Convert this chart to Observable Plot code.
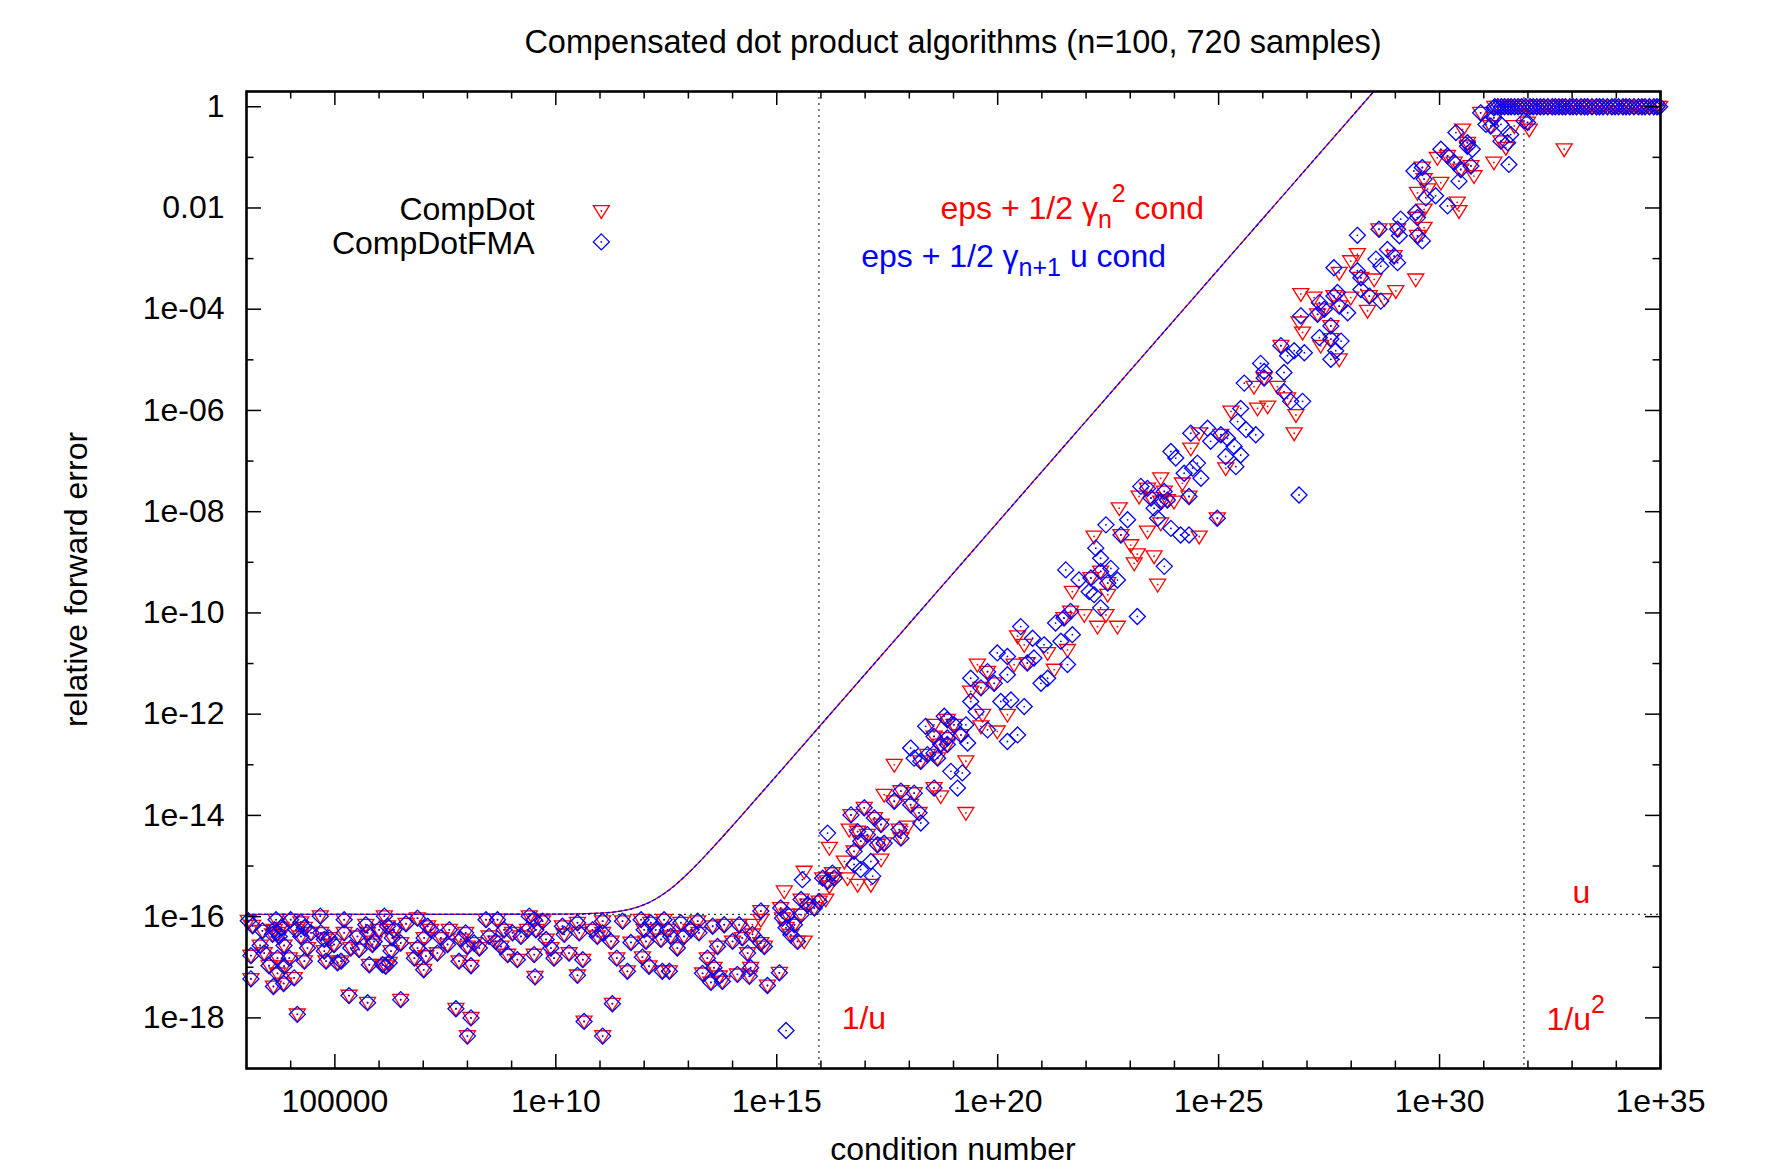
<!DOCTYPE html>
<html>
<head>
<meta charset="utf-8">
<script src="https://cdn.jsdelivr.net/npm/d3@7"></script>
<script src="https://cdn.jsdelivr.net/npm/@observablehq/plot@0.6"></script>
<style>
  body { margin: 0; background: #fff; }
  svg text { font-family: 'Liberation Sans', Arial, Helvetica, sans-serif; }
</style>
</head>
<body>
<div id="chart"></div>
<script>
// ---------- axis ticks ----------
const xTickValues = [1e5, 1e10, 1e15, 1e20, 1e25, 1e30, 1e35];
const xTickLabels = ["100000", "1e+10", "1e+15", "1e+20", "1e+25", "1e+30", "1e+35"];
const xMinorTicks = [1e4,1e6,1e7,1e8,1e9,1e11,1e12,1e13,1e14,1e16,1e17,1e18,1e19,1e21,1e22,1e23,1e24,1e26,1e27,1e28,1e29,1e31,1e32,1e33,1e34];
const yTickValues = [1, 1e-2, 1e-4, 1e-6, 1e-8, 1e-10, 1e-12, 1e-14, 1e-16, 1e-18];
const yTickLabels = ["1", "0.01", "1e-04", "1e-06", "1e-08", "1e-10", "1e-12", "1e-14", "1e-16", "1e-18"];
const yMinorTicks = [1e-1, 1e-3, 1e-5, 1e-7, 1e-9, 1e-11, 1e-13, 1e-15, 1e-17];

// ---------- reference lines: 1/u, 1/u^2 and u ----------
const refCond = [9.007e15, 8.113e31];
const refErr = [1.11e-16];

// ---------- samples: [log10(condition number), log10(relative forward error)] ----------
// samples where CompDot and CompDotFMA give (visually) the same error
const bothPts = [
[3.04,-16.08],[3.14,-16.18],[3.10,-16.77],[3.10,-17.23],[3.36,-16.28],[3.31,-16.57],[3.40,-16.72],[3.51,-16.97],[3.61,-17.38],[3.67,-16.06],
[3.70,-16.32],[3.63,-16.26],[3.78,-16.22],[3.59,-16.35],[3.74,-16.39],[3.85,-16.57],[3.70,-16.82],[3.85,-16.98],[3.70,-17.12],[3.84,-17.32],
[3.97,-16.82],[4.00,-16.06],[4.12,-16.26],[4.08,-17.21],[4.15,-17.93],[4.23,-16.11],[4.23,-16.39],[4.31,-16.22],[4.38,-16.62],[4.31,-16.88],
[4.46,-16.32],[4.67,-15.99],[4.68,-16.32],[4.76,-16.45],[4.87,-16.42],[4.80,-16.88],[4.76,-16.68],[4.98,-16.55],[5.06,-16.91],[5.14,-16.88],
[5.21,-16.06],[5.21,-16.32],[5.32,-17.56],[5.36,-16.62],[5.55,-16.65],[5.51,-16.39],[5.70,-16.16],[5.74,-16.32],[5.78,-16.95],[5.74,-17.70],
[5.85,-16.55],[5.89,-16.49],[6.00,-16.26],[6.08,-16.95],[6.15,-16.98],[6.23,-16.91],[6.12,-15.99],[6.19,-16.19],[6.30,-16.42],[6.34,-16.26],
[6.27,-16.68],[6.49,-16.52],[6.49,-17.64],[6.61,-16.14],[6.87,-16.62],[6.87,-16.03],[6.80,-16.82],[7.01,-17.05],[7.06,-16.78],[7.02,-16.42],
[7.10,-16.19],[7.17,-16.26],[7.32,-16.72],[7.40,-16.42],[7.59,-16.26],[7.55,-16.55],[7.74,-17.82],[7.81,-16.88],[7.85,-16.45],[7.96,-16.32],
[8.00,-16.59],[8.08,-16.97],[8.08,-18.00],[8.00,-18.36],[8.15,-16.52],[8.27,-16.62],[8.42,-16.06],[8.49,-16.39],[8.68,-16.06],[8.64,-16.49],
[8.76,-16.59],[8.83,-16.26],[8.91,-16.75],[9.02,-16.32],[9.13,-16.85],[9.21,-16.39],[9.36,-16.26],[9.40,-15.99],
[9.51,-16.06],[9.55,-16.26],[9.51,-16.75],[9.53,-17.19],[9.70,-16.09],[9.78,-16.45],[9.89,-16.62],[9.96,-16.82],[10.15,-16.19],[10.19,-16.35],
[10.30,-16.72],[10.49,-16.12],[10.53,-16.32],[10.49,-17.16],[10.61,-16.85],[10.64,-18.07],[10.83,-16.26],[10.94,-16.39],[11.06,-16.09],[11.06,-18.36],
[11.06,-16.32],[11.25,-16.49],[11.28,-17.72],[11.38,-16.82],[11.51,-16.09],[11.62,-17.08],[11.70,-16.51],[11.93,-16.06],[11.96,-16.80],[12.00,-16.26],
[12.04,-16.49],[12.11,-16.98],[12.15,-16.12],[12.26,-16.26],[12.38,-16.45],[12.41,-17.08],[12.45,-16.06],[12.53,-16.26],[12.57,-17.08],[12.60,-16.39],
[12.75,-16.62],[12.83,-16.12],[12.90,-16.39],[13.06,-16.26],[13.21,-16.09],[13.24,-16.32],[13.32,-17.12],[13.43,-16.82],[13.51,-17.30],[13.55,-16.19],
[13.58,-17.01],[13.66,-16.59],[13.70,-17.18],[13.77,-17.28],[13.81,-16.16],[14.00,-16.49],[14.11,-17.14],[14.15,-16.16],[14.22,-16.42],[14.34,-16.72],
[14.38,-17.18],[14.41,-17.01],[14.45,-16.35],[14.64,-15.89],[14.64,-16.52],[14.72,-16.59],[14.79,-17.36],
[15.06,-17.11],[15.09,-15.83],[15.13,-16.03],[15.24,-15.96],[15.21,-16.22],[15.32,-16.36],[15.47,-16.49],[15.40,-16.16],[15.55,-15.96],[15.55,-15.66],
[15.70,-15.76],[15.85,-15.83],[15.96,-15.70],[16.04,-15.24],[16.15,-15.30],[16.26,-15.14],[16.30,-15.24],
[16.68,-13.99],[16.98,-13.85],[17.21,-14.05],[17.36,-14.18],[16.83,-14.32],[17.05,-14.38],[16.90,-14.51],[16.75,-14.71],[17.28,-14.58],[17.43,-14.55],
[17.77,-14.28],[17.81,-14.45],[17.66,-13.72],[17.81,-13.52],[18.11,-13.56],[18.03,-13.79],[18.22,-13.95],[18.56,-13.46],
[18.26,-12.93],[18.41,-12.80],[18.64,-12.87],[18.71,-12.60],[18.86,-12.60],[18.86,-12.11],[19.01,-12.21],[18.56,-12.44],[18.86,-12.47],[19.17,-12.41],
[19.77,-11.16],[19.62,-11.48],[19.92,-11.39],[20.67,-10.99],[21.50,-10.10],[21.65,-9.97],
[22.11,-9.31],[22.33,-9.18],[22.49,-9.41],[22.79,-8.46],[23.39,-7.54],[23.47,-7.73],[23.69,-7.80],[23.84,-7.77],[23.77,-7.60],[24.33,-7.70],
[24.97,-8.13],[25.05,-6.48],[26.03,-5.36],
[26.41,-4.72],[27.24,-4.10],[27.39,-4.00],[27.61,-3.74],[27.73,-3.94],[28.41,-3.74],[27.54,-4.59],[27.54,-4.33],[28.22,-3.38],[28.97,-2.95],
[28.63,-2.42],[29.05,-2.42],[29.50,-2.19],[29.50,-2.55],[29.61,-1.20],[29.65,-1.43],[30.18,-0.97],[30.33,-1.10],[30.48,-1.24],[30.63,-0.78],
[30.63,-0.71],[30.71,-1.17],[30.93,-0.12],[31.16,-0.38],[31.23,-0.22],[31.39,-0.68],[31.99,-0.31]
];
// samples where only the CompDot marker is distinguishable
const compDotPts = [
[14.45,-16.16],[14.64,-16.06],
[15.62,-16.49],[15.17,-15.50],[16.11,-15.66],[15.62,-15.11],[16.19,-15.40],[16.19,-14.64],[16.53,-14.91],[16.60,-15.24],[16.83,-15.37],[17.13,-15.37],
[16.64,-14.28],[17.36,-14.87],[17.96,-14.22],[17.43,-13.59],[18.71,-13.62],[19.28,-13.95],
[17.66,-13.00],[18.56,-12.21],[19.28,-12.93],[19.62,-12.24],[19.99,-12.34],[19.66,-12.01],[19.39,-11.55],[19.54,-11.02],[20.22,-12.01],[20.45,-10.46],
[20.60,-10.63],[21.28,-11.12],[21.58,-10.73],[21.13,-10.79],[20.37,-11.02],[21.96,-10.04],[22.26,-10.27],[22.71,-10.27],[22.45,-10.04],
[21.69,-9.58],[22.49,-9.64],[22.18,-8.49],[23.01,-8.66],[23.09,-9.02],[23.16,-8.84],[23.54,-8.88],[23.62,-9.44],[22.75,-7.93],[23.20,-7.70],
[23.99,-7.80],[23.69,-7.34],[24.56,-8.49],[23.39,-8.39],[23.69,-8.23],[24.37,-6.75],[24.18,-7.44],[24.56,-6.45],[25.16,-7.14],[25.28,-6.02],
[25.88,-5.96],[26.11,-5.92],[25.80,-5.53],[26.33,-5.53],[26.56,-5.76],[26.75,-6.09],[26.71,-6.45],
[26.86,-3.70],[26.90,-4.46],[26.82,-4.26],[27.16,-3.77],[27.99,-3.77],[28.37,-4.03],[28.75,-3.80],[27.31,-4.72],[27.73,-4.99],[27.73,-3.28],
[28.14,-2.91],[27.99,-3.05],[28.52,-3.41],[29.01,-3.64],[29.46,-3.41],[29.65,-2.39],[29.73,-1.63],[30.03,-1.50],[29.50,-1.70],[30.40,-1.89],
[30.44,-2.06],[29.65,-2.03],[29.95,-1.01],[30.52,-0.45],[30.78,-1.37],[31.50,-0.81],[31.23,-1.10],[31.69,-0.38],[32.03,-0.45],[32.82,-0.84]
];
// samples where only the CompDotFMA marker is distinguishable
const compDotFMAPts = [
[15.21,-18.25],[15.58,-15.27],[16.15,-14.35],[17.17,-15.20],[16.90,-15.07],[16.75,-14.97],[17.13,-14.91],[18.26,-14.15],[19.09,-13.46],
[18.03,-12.67],[18.11,-12.87],[18.56,-12.77],[18.94,-13.13],[19.20,-13.16],[18.37,-12.24],[18.79,-12.04],[19.28,-12.21],[19.32,-12.57],[19.39,-11.75],
[19.51,-11.95],[19.77,-12.31],[19.39,-11.29],[20.22,-11.22],[20.22,-12.54],[20.45,-12.41],[20.60,-11.85],[20.07,-11.75],[20.30,-11.72],[19.99,-10.79],
[20.22,-10.86],[20.52,-10.27],[20.79,-10.50],[20.82,-10.89],[21.05,-10.63],[20.98,-11.39],[21.13,-11.29],[21.58,-11.02],[21.43,-10.56],[21.69,-10.43],
[21.31,-10.20],[22.33,-9.90],[23.16,-10.07],
[21.54,-9.15],[21.84,-9.35],[22.07,-9.58],[22.18,-9.64],[22.45,-8.26],[22.22,-8.72],[22.33,-8.92],[22.56,-9.12],[22.71,-9.35],[23.77,-9.08],
[22.94,-8.16],[23.24,-7.50],[23.54,-7.93],[23.62,-8.13],[23.92,-8.33],[24.14,-8.46],[24.33,-8.46],[23.92,-6.81],[24.03,-6.94],[24.41,-7.14],
[24.52,-7.04],[24.60,-7.34],[24.22,-7.24],[24.37,-6.45],[24.75,-6.35],[24.82,-6.61],[25.20,-6.55],[25.35,-6.71],[25.16,-6.91],[25.39,-7.11],
[25.50,-6.88],[25.50,-5.96],[25.43,-6.22],[25.62,-6.38],[25.84,-6.48],[25.58,-5.46],[26.03,-5.23],[26.48,-5.63],[26.63,-5.82],[26.90,-5.82],
[26.82,-7.67],[25.95,-5.07],
[26.48,-5.25],[26.56,-4.92],[26.71,-4.82],[26.94,-4.86],[26.86,-4.13],[27.28,-3.87],[27.69,-3.67],[27.92,-4.07],[28.22,-3.61],[28.67,-3.84],
[27.28,-4.56],[27.77,-4.63],[27.65,-4.82],[27.54,-4.99],[27.61,-3.18],[28.14,-3.24],[28.56,-3.01],[28.67,-3.15],[28.82,-2.82],[29.05,-3.08],
[28.14,-2.54],[29.09,-2.55],[29.12,-2.22],[29.61,-2.65],[29.42,-1.27],[29.69,-1.80],[29.91,-1.76],[30.18,-1.96],[29.46,-2.09],[30.03,-0.84],
[30.74,-0.84],[30.37,-0.51],[30.44,-1.47],[31.05,-0.35],[31.39,-0.35],[31.23,-0.02],[31.61,-0.55],[31.54,-0.71],[31.57,-1.14],[31.91,-0.28]
];
// log10(condition number) of samples whose error saturates at 1 (both algorithms)
const saturatedCond = [31.25,31.32,31.40,31.47,31.55,31.62,31.70,31.78,31.86,31.95,32.05,32.12,32.20,32.28,32.36,32.45,32.55,32.62,32.70,32.78,
32.85,32.95,33.02,33.10,33.20,33.28,33.35,33.45,33.55,33.62,33.70,33.80,33.90,33.97,34.05,34.15,34.22,34.30,34.40,34.50,34.58,34.65,34.75,34.85,34.92,34.98];

// bound curves (both drawn on the same path): [log10(cond), log10(error)]
const boundCurve = [[3,-15.955],[10,-15.952],[11,-15.931],[11.5,-15.884],[11.75,-15.837],[12,-15.763],[12.25,-15.657],[12.5,-15.515],
[12.75,-15.34],[13,-15.138],[13.25,-14.918],[13.5,-14.686],[13.75,-14.447],[14,-14.203],[14.5,-13.708],[15,-13.21],[16,-12.21],[28.51,0.30]];

// legend
const legendLabels = ["CompDot", "CompDotFMA"];
const seriesColors = ["#ff0000", "#0000ff"];

// ---------- build data ----------
const toRow = ([c, e]) => ({cond: 10 ** c, err: 10 ** e});
const satRows = saturatedCond.map(c => ({cond: 10 ** c, err: 1}));
const dotData = bothPts.map(toRow).concat(compDotPts.map(toRow), satRows);
const fmaData = bothPts.map(toRow).concat(compDotFMAPts.map(toRow), satRows);
const curveData = boundCurve.map(toRow);

const RED = seriesColors[0], BLUE = seriesColors[1];
const triDown = {draw(ctx, size) { const s = Math.sqrt(size / Math.PI);
  ctx.moveTo(-s, -0.67 * s); ctx.lineTo(s, -0.67 * s); ctx.lineTo(0, 0.93 * s); ctx.closePath(); }};
const diamond = {draw(ctx, size) { const s = Math.sqrt(size / Math.PI);
  ctx.moveTo(0, -s); ctx.lineTo(s, 0); ctx.lineTo(0, s); ctx.lineTo(-s, 0); ctx.closePath(); }};

const W = 1791, H = 1169, ML = 246, MR = 131, MT = 91, MB = 101;
const FH = H - MT - MB;
const FONT = "'Liberation Sans', Arial, Helvetica, sans-serif";
const MR_SIZE = 8, MSW = 1.3;

// legend positions in data space
const legendTextCond = 10 ** 9.52, legendSymCond = 10 ** 11.03;
const legendTextY = [10 ** -2.23, 10 ** -2.91];
const legendSymY = [10 ** -2.06, 10 ** -2.67];

const plot = Plot.plot({
  width: W, height: H,
  marginLeft: ML, marginRight: MR, marginTop: MT, marginBottom: MB,
  style: {fontFamily: FONT, fontSize: "32px", background: "#fff", color: "#000", overflow: "visible"},
  x: {type: "log", domain: [1e3, 1e35], axis: null},
  y: {type: "log", domain: [1e-19, 2], axis: null},
  marks: [
    Plot.ruleX(refCond, {x: d => d, stroke: "#333", strokeWidth: 1.2, strokeDasharray: "2,4"}),
    Plot.ruleY(refErr, {y: d => d, stroke: "#333", strokeWidth: 1.2, strokeDasharray: "2,4"}),
    Plot.dot(dotData, {x: "cond", y: "err", symbol: triDown, r: MR_SIZE, stroke: RED, strokeWidth: MSW, fill: "none"}),
    Plot.dot(dotData, {x: "cond", y: "err", r: 0.9, fill: RED, stroke: "none"}),
    Plot.dot(fmaData, {x: "cond", y: "err", symbol: diamond, r: MR_SIZE, stroke: BLUE, strokeWidth: MSW, fill: "none"}),
    Plot.dot(fmaData, {x: "cond", y: "err", r: 0.9, fill: BLUE, stroke: "none"}),
    Plot.line(curveData, {x: "cond", y: "err", stroke: RED, strokeWidth: 1.3, curve: "monotone-x"}),
    Plot.line(curveData, {x: "cond", y: "err", stroke: BLUE, strokeWidth: 1.3, strokeDasharray: "3,3", curve: "monotone-x"}),
    // ticks, inward on all four sides
    Plot.tickX(xTickValues, {x: d => d, insetTop: FH - 14, stroke: "#000", strokeWidth: 1.5}),
    Plot.tickX(xTickValues, {x: d => d, insetBottom: FH - 14, stroke: "#000", strokeWidth: 1.5}),
    Plot.tickX(xMinorTicks, {x: d => d, insetTop: FH - 7.5, stroke: "#000", strokeWidth: 1.5}),
    Plot.tickX(xMinorTicks, {x: d => d, insetBottom: FH - 7.5, stroke: "#000", strokeWidth: 1.5}),
    Plot.tickY(yTickValues, {y: d => d, insetRight: (W - ML - MR) - 15, stroke: "#000", strokeWidth: 1.5}),
    Plot.tickY(yTickValues, {y: d => d, insetLeft: (W - ML - MR) - 15, stroke: "#000", strokeWidth: 1.5}),
    Plot.tickY(yMinorTicks, {y: d => d, insetRight: (W - ML - MR) - 7.5, stroke: "#000", strokeWidth: 1.5}),
    Plot.tickY(yMinorTicks, {y: d => d, insetLeft: (W - ML - MR) - 7.5, stroke: "#000", strokeWidth: 1.5}),
    Plot.axisX(xTickValues, {anchor: "bottom", tickSize: 0, tickPadding: 21, fontSize: 32,
      tickFormat: d => xTickLabels[xTickValues.indexOf(d)], label: null}),
    Plot.axisY(yTickValues, {anchor: "left", tickSize: 0, tickPadding: 22, fontSize: 32,
      tickFormat: d => yTickLabels[yTickValues.indexOf(d)], label: null}),
    Plot.frame({stroke: "#000", strokeWidth: 2.6}),
    // legend
    Plot.text(legendLabels, {x: () => legendTextCond, y: (d, i) => legendTextY[i], text: d => d,
      textAnchor: "end", lineAnchor: "bottom", fontSize: 32, fill: "#000"}),
    Plot.dot([0], {x: () => legendSymCond, y: () => legendSymY[0], symbol: triDown, r: MR_SIZE, stroke: RED, strokeWidth: MSW}),
    Plot.dot([0], {x: () => legendSymCond, y: () => legendSymY[0], r: 0.9, fill: RED}),
    Plot.dot([0], {x: () => legendSymCond, y: () => legendSymY[1], symbol: diamond, r: MR_SIZE, stroke: BLUE, strokeWidth: MSW}),
    Plot.dot([0], {x: () => legendSymCond, y: () => legendSymY[1], r: 0.9, fill: BLUE})
  ]
});

document.getElementById("chart").appendChild(plot);

// ---------- rich-text labels placed through the plot's scales ----------
const sx = plot.scale("x"), sy = plot.scale("y");
const svg = d3.select(plot);

function rich(cond, err, anchor, color, parts) {
  const t = svg.append("text")
    .attr("x", sx.apply(cond)).attr("y", sy.apply(err))
    .attr("text-anchor", anchor).attr("fill", color)
    .attr("font-family", FONT).attr("font-size", 32);
  let shift = 0;
  for (const p of parts) {
    const target = p.sub ? 9 : p.sup ? -17 : 0;
    t.append("tspan").attr("dy", target - shift)
      .attr("font-size", p.sub || p.sup ? 25 : 32).text(p.t);
    shift = target;
  }
  return t;
}

// labels: [log10 cond, log10 err]
const labelRedPos = [24.68, -2.23], labelBluePos = [23.82, -3.17];
const labelInvU = [16.48, -18.22], labelInvU2 = [32.43, -18.25], labelU = [33.22, -15.75];

rich(10 ** labelRedPos[0], 10 ** labelRedPos[1], "end", RED,
  [{t: "eps + 1/2 γ"}, {t: "n", sub: true}, {t: "2", sup: true}, {t: " cond"}]);
rich(10 ** labelBluePos[0], 10 ** labelBluePos[1], "end", BLUE,
  [{t: "eps + 1/2 γ"}, {t: "n+1", sub: true}, {t: " u cond"}]);
rich(10 ** labelInvU[0], 10 ** labelInvU[1], "start", RED, [{t: "1/u"}]);
rich(10 ** labelInvU2[0], 10 ** labelInvU2[1], "start", RED, [{t: "1/u"}, {t: "2", sup: true}]);
rich(10 ** labelU[0], 10 ** labelU[1], "middle", RED, [{t: "u"}]);

// title and axis labels
const cx = (ML + (W - MR)) / 2;
svg.append("text").attr("x", cx).attr("y", 53).attr("text-anchor", "middle")
  .attr("font-family", FONT).attr("font-size", 32.5).attr("fill", "#000")
  .text("Compensated dot product algorithms (n=100, 720 samples)");
svg.append("text").attr("x", cx).attr("y", 1160).attr("text-anchor", "middle")
  .attr("font-family", FONT).attr("font-size", 32).attr("fill", "#000")
  .text("condition number");
svg.append("text").attr("transform", `translate(87,${MT + FH / 2}) rotate(-90)`).attr("text-anchor", "middle")
  .attr("font-family", FONT).attr("font-size", 32).attr("fill", "#000")
  .text("relative forward error");
</script>
</body>
</html>
